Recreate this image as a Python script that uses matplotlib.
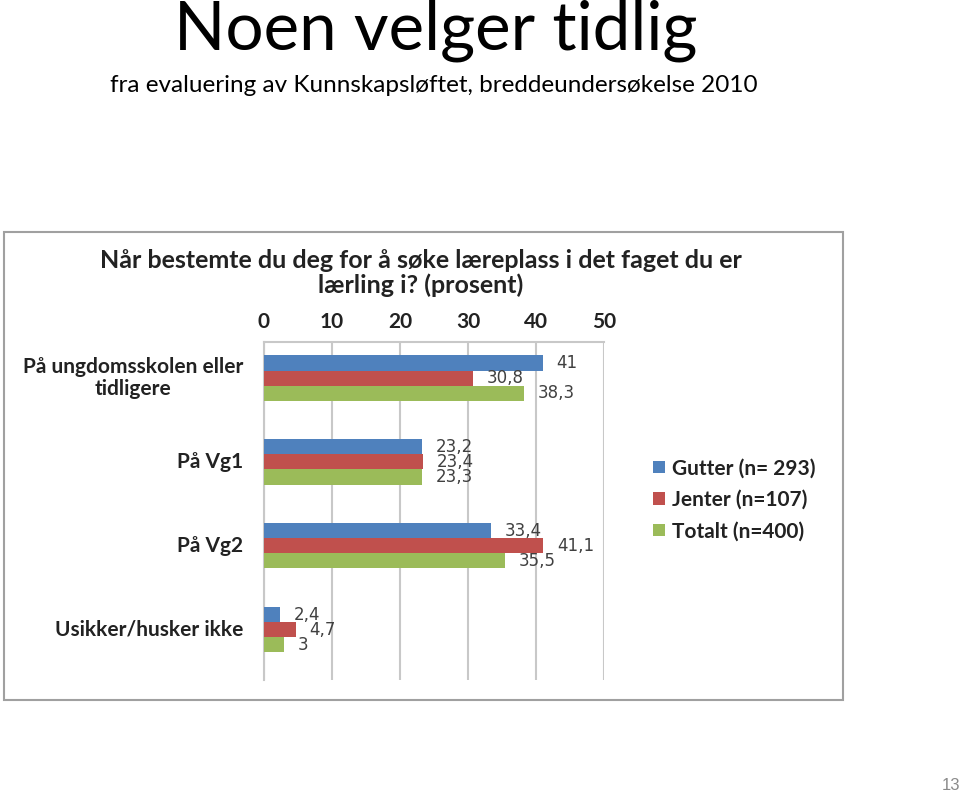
import matplotlib
matplotlib.use("Agg")
import matplotlib.pyplot as plt
from matplotlib.patches import Rectangle
import numpy as np

categories = ["På ungdomsskolen eller\ntidligere", "På Vg1", "På Vg2", "Usikker/husker ikke"]
series_names = ["Gutter (n= 293)", "Jenter (n=107)", "Totalt (n=400)"]
gutter = [41, 23.2, 33.4, 2.4]
jenter = [30.8, 23.4, 41.1, 4.7]
totalt = [38.3, 23.3, 35.5, 3]
xticks = [0, 10, 20, 30, 40, 50]

colors = ["#4F81BD", "#C0504D", "#9BBB59"]
W, H = 960, 794

plt.rcParams['font.family'] = ['Lato', 'DejaVu Sans']

fig = plt.figure(figsize=(W / 100, H / 100), dpi=100)
fig.patch.set_facecolor("white")


def fx(px):
    return px / W


def fy(py):
    return 1 - py / H


# slide titles
fig.text(fx(436), fy(31), "Noen velger tidlig", ha="center", va="center",
         fontsize=48.5, color="black")
fig.text(fx(434), fy(86), "fra evaluering av Kunnskapsløftet, breddeundersøkelse 2010",
         ha="center", va="center", fontsize=17.5, color="black")
fig.text(fx(960), fy(786), "13", ha="right", va="center", fontsize=12,
         color="#8a8a8a", family=["Liberation Sans", "DejaVu Sans"])

# frame around the embedded chart
fig.patches.append(Rectangle((fx(4), fy(700)), fx(839), 468 / H,
                             transform=fig.transFigure, fill=False,
                             edgecolor="#a0a0a0", linewidth=1.5))

fig.text(fx(421), fy(260), "Når bestemte du deg for å søke læreplass i det faget du er",
         ha="center", va="center", fontsize=18, fontweight="bold", color="#222222")
fig.text(fx(421), fy(285), "lærling i? (prosent)",
         ha="center", va="center", fontsize=18, fontweight="bold", color="#222222")

ax = fig.add_axes([fx(264), fy(680), (604 - 264) / W, 338 / H])
y = np.arange(len(categories))
h = 0.18
values = [gutter, jenter, totalt]
for i, vals in enumerate(values):
    pos = y + (i - 1) * h
    ax.barh(pos, vals, height=h, color=colors[i], label=series_names[i], zorder=3)
    for p, v in zip(pos, vals):
        ax.text(v + 2.0, p, f"{v:g}".replace(".", ","), ha="left", va="center",
                fontsize=12, color="#404040", zorder=4,
                family=["DejaVu Sans"])

ax.set_xlim(0, 50)
ax.set_ylim(3.6, -0.43)
ax.set_xticks(xticks)
ax.xaxis.tick_top()
ax.tick_params(axis="x", length=0, pad=7.5, labelsize=15, labelcolor="#222222")
for lab in ax.get_xticklabels():
    lab.set_fontweight("bold")
ax.set_yticks([])
ax.grid(axis="x", color="#c8c8c8", linewidth=1.5, zorder=0)
for s in ["right", "bottom"]:
    ax.spines[s].set_visible(False)
ax.spines["top"].set_color("#c8c8c8")
ax.spines["top"].set_linewidth(1.5)
ax.spines["left"].set_color("#c8c8c8")
ax.spines["left"].set_linewidth(1.5)

for yc, cat in zip(y, categories):
    ax.text(-3, yc, cat, ha="right", va="center", multialignment="center",
            fontsize=15, fontweight="bold", color="#222222", linespacing=1.1)

leg = fig.legend(loc="upper left", bbox_to_anchor=(fx(645), fy(450)),
                 frameon=False, prop={"size": 15, "weight": "bold"},
                 handlelength=0.55, handleheight=0.55, handletextpad=0.35,
                 labelspacing=0.55, borderaxespad=0)
for t in leg.get_texts():
    t.set_color("#222222")

fig.savefig("out.png", dpi=100)
